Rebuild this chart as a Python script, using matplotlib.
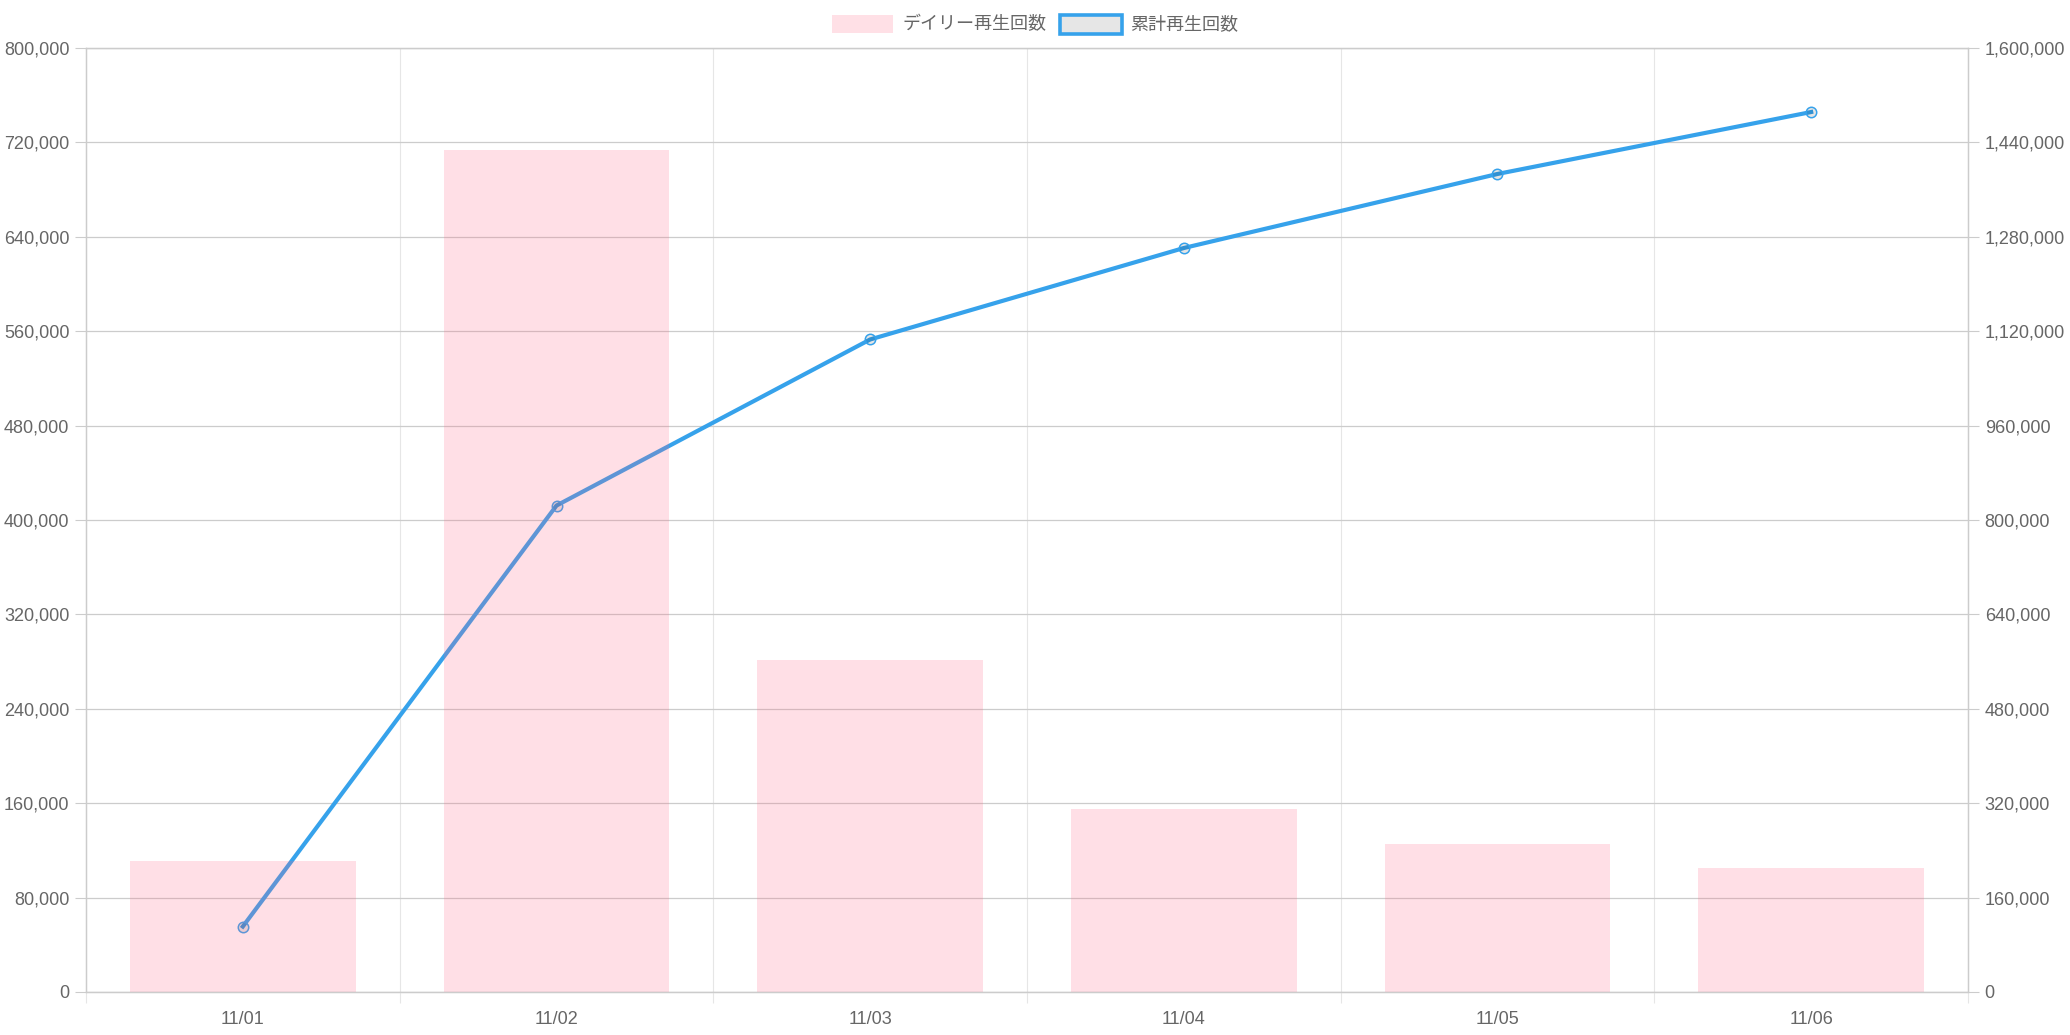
import numpy as np
import matplotlib.pyplot as plt
from matplotlib.patches import Rectangle
from matplotlib.ticker import FuncFormatter, MultipleLocator

# ------------------------------------------------------------
# Data
# ------------------------------------------------------------
dates = ["11/01", "11/02", "11/03", "11/04", "11/05", "11/06"]
daily_plays = [111000, 713500, 281500, 155000, 125500, 105000]
cumulative_plays = [111000, 824500, 1106000, 1261000, 1386500, 1491500]

label_daily = "デイリー再生回数"
label_total = "累計再生回数"

# ------------------------------------------------------------
# Style
# ------------------------------------------------------------
plt.rcParams['font.family'] = ['Liberation Sans', 'Noto Sans CJK JP', 'DejaVu Sans']
text_col = "#666666"
blue = "#36A2EB"
pink = (1.0, 99 / 255, 132 / 255, 0.2)
grid_h = "#cccccc"
grid_v = "#e6e6e6"
fs = 13

W, H = 2070, 1035
fig = plt.figure(figsize=(W / 100, H / 100), dpi=100)

left, right, top, bottom = 86, 1968, 48, 992
ax = fig.add_axes([left / W, 1 - bottom / H, (right - left) / W, (bottom - top) / H])
ax2 = ax.twinx()

# bars on top of the line (like the chart.js drawing order)
ax.set_zorder(2)
ax2.set_zorder(1)
ax.patch.set_visible(False)
ax2.patch.set_visible(True)
ax2.patch.set_facecolor("white")

x = np.arange(len(dates))
ax.bar(x, daily_plays, width=0.72, color=pink, linewidth=0, zorder=2)
ax2.plot(x, cumulative_plays, color=blue, lw=3.0, marker='o', ms=7.5,
         mfc=(0, 0, 0, 0.1), mec=blue, mew=1.1, zorder=3)

ax.set_xlim(-0.5, len(dates) - 0.5)
ax.set_ylim(0, 800000)
ax2.set_ylim(0, 1600000)

fmt = FuncFormatter(lambda v, p: f"{int(v):,}")
ax.yaxis.set_major_locator(MultipleLocator(80000))
ax2.yaxis.set_major_locator(MultipleLocator(160000))
ax.yaxis.set_major_formatter(fmt)
ax2.yaxis.set_major_formatter(fmt)

# grid on the lower axes so it sits under the line
ax2.yaxis.grid(True, color=grid_h, lw=0.9)
for b in np.arange(0.5, len(dates) - 0.5, 1.0):
    ax2.axvline(b, color=grid_v, lw=0.8, zorder=0)

ax.set_xticks(x)
ax.set_xticklabels(dates)
ax.set_xticks(np.arange(-0.5, len(dates), 1.0), minor=True)
ax.tick_params(axis='x', which='major', length=0, pad=14, labelsize=fs, labelcolor=text_col)
ax.tick_params(axis='x', which='minor', length=8, width=0.8, color=grid_v, direction='out')
ax.tick_params(axis='y', length=8, width=0.8, color=grid_h, pad=4, labelsize=fs, labelcolor=text_col)
ax2.tick_params(axis='y', length=8, width=0.8, color=grid_h, pad=4, labelsize=fs, labelcolor=text_col)

for a in (ax, ax2):
    for s in a.spines.values():
        s.set_color(grid_h)
        s.set_linewidth(0.9)

# ------------------------------------------------------------
# Legend (drawn by hand, centred on top)
# ------------------------------------------------------------
def fx(px):
    return px / W


def fy(py):
    return 1 - py / H


fig.add_artist(Rectangle((fx(832), fy(33)), fx(61), 18 / H, transform=fig.transFigure,
                         facecolor="#FFE0E6", edgecolor="none"))
fig.text(fx(902), fy(24), label_daily, color=text_col, fontsize=fs,
         family=['Noto Sans CJK JP', 'DejaVu Sans'], va='center', ha='left')
fig.add_artist(Rectangle((fx(1059.5), fy(33.5)), 62 / W, 19 / H, transform=fig.transFigure,
                         facecolor="#E6E6E6", edgecolor=blue, linewidth=2.6))
fig.text(fx(1130), fy(24), label_total, color=text_col, fontsize=fs,
         family=['Noto Sans CJK JP', 'DejaVu Sans'], va='center', ha='left')

fig.savefig("out.png", dpi=100)
